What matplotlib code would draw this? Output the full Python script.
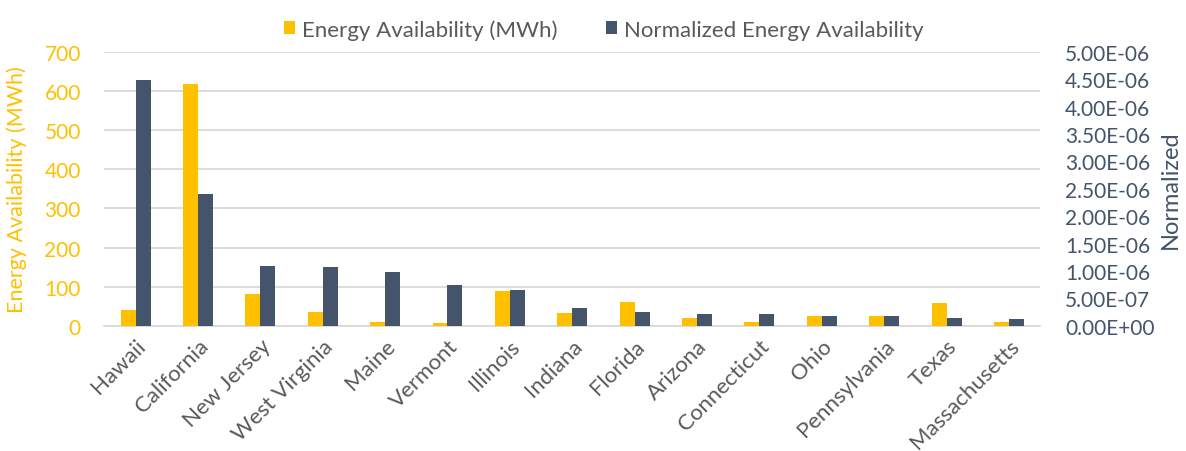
import numpy as np
import matplotlib.pyplot as plt
from matplotlib.ticker import FuncFormatter

plt.rcParams['font.family'] = ['Lato', 'DejaVu Sans']

states = ['Hawaii', 'California', 'New Jersey', 'West Virginia', 'Maine',
          'Vermont', 'Illinois', 'Indiana', 'Florida', 'Arizona',
          'Connecticut', 'Ohio', 'Pennsylvania', 'Texas', 'Massachusetts']

# Energy availability (MWh)
energy = [40, 618, 80, 34, 10, 6, 89, 33, 61, 20, 8.5, 26, 24, 57, 8.5]

# Normalized energy availability
normalized = [4.48e-6, 2.40e-6, 1.10e-6, 1.08e-6, 0.98e-6, 0.74e-6, 0.65e-6,
              0.32e-6, 0.26e-6, 0.22e-6, 0.22e-6, 0.17e-6, 0.17e-6, 0.15e-6,
              0.12e-6]

orange = '#FFC000'
navy = '#44546A'
grid_col = '#D9D9D9'
tick_gray = '#595959'

fig, ax = plt.subplots(figsize=(11.86, 4.52), dpi=100)
fig.subplots_adjust(left=0.088, right=0.877, top=0.883, bottom=0.277)
ax2 = ax.twinx()

x = np.arange(len(states))
w = 0.24
b1 = ax.bar(x - w / 2, energy, w, color=orange, label='Energy Availability (MWh)', zorder=3)
b2 = ax2.bar(x + w / 2, normalized, w, color=navy, label='Normalized Energy Availability', zorder=3)

ax.set_ylim(0, 700)
ax.set_yticks(np.arange(0, 701, 100))
ax2.set_ylim(0, 5e-6)
ax2.set_yticks(np.arange(0, 5.01e-6, 0.5e-6))
ax2.yaxis.set_major_formatter(FuncFormatter(lambda v, p: '%.2E' % v))
ax.set_xlim(-0.5, len(states) - 0.5)

ax.yaxis.grid(True, color=grid_col, linewidth=1.3, zorder=0)
ax.set_axisbelow(True)

for a in (ax, ax2):
    for s in a.spines.values():
        s.set_visible(False)
    a.tick_params(length=0)
ax.spines['bottom'].set_visible(True)
ax.spines['bottom'].set_color(grid_col)
ax.spines['bottom'].set_linewidth(1.3)

ax.set_xticks(x)
ax.set_xticklabels(states, rotation=45, ha='right', rotation_mode='anchor',
                   fontsize=16, color=tick_gray)
ax.tick_params(axis='x', pad=7)
ax.tick_params(axis='y', labelsize=15, labelcolor=orange, pad=17)
ax2.tick_params(axis='y', labelsize=15, labelcolor=navy, pad=18)

ax.set_ylabel('Energy Availability (MWh)', color=orange, fontsize=15.5)
ax.yaxis.set_label_coords(-0.083, 0.5)
ax2.set_ylabel('Normalized', color=navy, fontsize=17, labelpad=4)

fig.legend([b1, b2], ['Energy Availability (MWh)', 'Normalized Energy Availability'],
           loc='upper center', bbox_to_anchor=(0.509, 1.0), ncol=2, frameon=False,
           fontsize=16, handlelength=0.5, handleheight=0.5, handletextpad=0.3,
           columnspacing=2.2, labelcolor=tick_gray)

fig.savefig('out.png', dpi=100)
